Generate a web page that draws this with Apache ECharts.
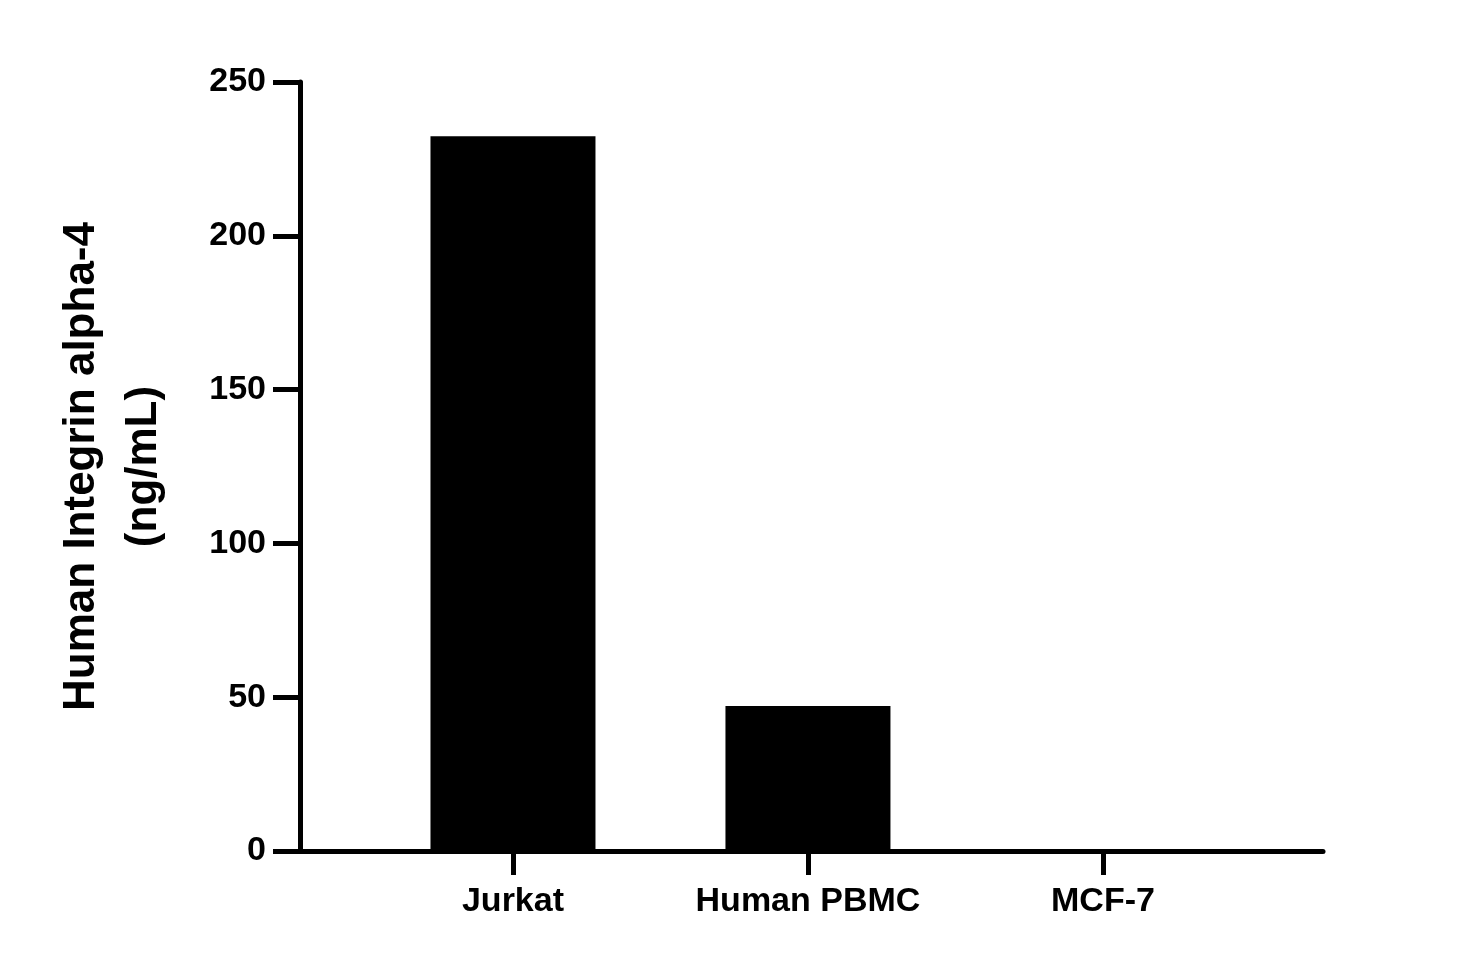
<!DOCTYPE html>
<html><head><meta charset="utf-8">
<script src="https://cdn.jsdelivr.net/npm/echarts@6/dist/echarts.min.js"></script>
<style>html,body{margin:0;padding:0;background:#fff}#c{width:1458px;height:972px}</style>
</head><body><div id="c"></div>
<script>
const categories = ['Jurkat', 'Human PBMC', 'MCF-7'];
const values = [232.4, 47.1, 0];
const yTicks = [0, 50, 100, 150, 200, 250];

const chart = echarts.init(document.getElementById('c'));
const font = '"Liberation Sans", Arial, sans-serif';
chart.setOption({
  animation: false,
  grid: { left: 300, right: 135, top: 82, bottom: 121 },
  xAxis: {
    type: 'value', min: 0.278, max: 3.746,
    splitLine: { show: false },
    axisLine: { show: true, lineStyle: { color: '#000', width: 5 } },
    axisTick: { show: true, length: 24, lineStyle: { color: '#000', width: 5 }, customValues: [1, 2, 3] },
    axisLabel: { customValues: [1, 2, 3], formatter: v => categories[Math.round(v) - 1] || '',
      color: '#000', fontSize: 34, fontWeight: 'bold', fontFamily: font, margin: 34 }
  },
  yAxis: {
    type: 'value', min: 0, max: 250, interval: 50,
    name: 'Human Integrin alpha-4\n(ng/mL)', nameLocation: 'middle', nameGap: 125,
    nameTextStyle: { color: '#000', fontSize: 44, fontWeight: 'bold', fontFamily: font, lineHeight: 62 },
    splitLine: { show: false },
    axisLine: { show: true, lineStyle: { color: '#000', width: 5 } },
    axisTick: { show: true, length: 27, lineStyle: { color: '#000', width: 5 } },
    axisLabel: { color: '#000', fontSize: 34, fontWeight: 'bold', fontFamily: font, margin: 34,
      formatter: v => yTicks.includes(v) ? String(v) : '' }
  },
  series: [{
    type: 'bar', barWidth: 165,
    data: values.map((v, i) => [i + 1, v]),
    itemStyle: { color: '#000' }
  }]
});
</script></body></html>
